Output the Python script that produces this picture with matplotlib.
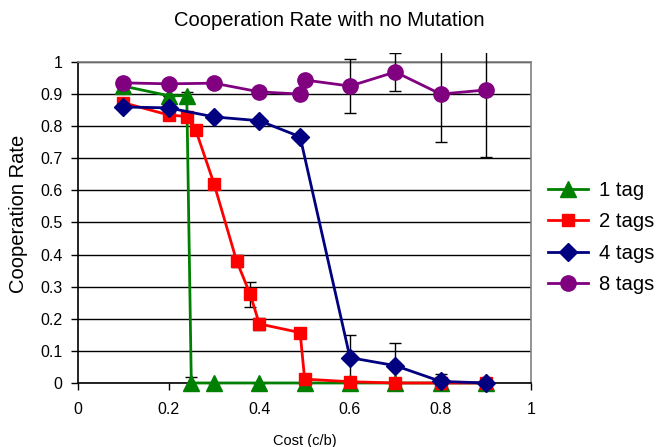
import numpy as np
import matplotlib.pyplot as plt
from matplotlib.transforms import Bbox, TransformedBbox

plt.rcParams['font.family'] = ['Liberation Sans', 'DejaVu Sans']

# 1 tag
x1 = [0.1, 0.2, 0.24, 0.25, 0.3, 0.4, 0.5, 0.6, 0.7, 0.8, 0.9]
y1 = [0.925, 0.895, 0.895, 0.0, 0.0, 0.0, 0.0, 0.0, 0.0, 0.0, 0.0]
e1 = [0.0, 0.0, 0.01, 0.02, 0.0, 0.0, 0.0, 0.0, 0.0, 0.0, 0.0]

# 2 tags
x2 = [0.1, 0.2, 0.24, 0.26, 0.3, 0.35, 0.38, 0.4, 0.49, 0.5, 0.6, 0.7, 0.8, 0.9]
y2 = [0.873, 0.835, 0.83, 0.787, 0.621, 0.38, 0.276, 0.184, 0.157, 0.012, 0.004, 0.0, 0.0, 0.0]
e2 = [0.0, 0.0, 0.0, 0.01, 0.0, 0.02, 0.04, 0.02, 0.01, 0.0, 0.0, 0.0, 0.0, 0.0]

# 4 tags
x4 = [0.1, 0.2, 0.3, 0.4, 0.49, 0.6, 0.7, 0.8, 0.9]
y4 = [0.86, 0.857, 0.829, 0.817, 0.767, 0.079, 0.054, 0.005, 0.0]
e4 = [0.0, 0.0, 0.0, 0.0, 0.01, 0.07, 0.07, 0.023, 0.0]

# 8 tags
x8 = [0.1, 0.2, 0.3, 0.4, 0.49, 0.5, 0.6, 0.7, 0.8, 0.9]
y8 = [0.935, 0.932, 0.934, 0.907, 0.9, 0.944, 0.925, 0.969, 0.9, 0.913]
e8 = [0.0, 0.0, 0.0, 0.0, 0.0, 0.0, 0.085, 0.06, 0.148, 0.208]

series = [
    (x1, y1, e1, '1 tag', '#008000', '^', 12),
    (x2, y2, e2, '2 tags', '#FF0000', 's', 9),
    (x4, y4, e4, '4 tags', '#000080', 'D', 9),
    (x8, y8, e8, '8 tags', '#800080', 'o', 11),
]

fig = plt.figure(figsize=(6.58, 4.47), dpi=100)
ax = fig.add_axes([0.1185, 0.1432, 0.689, 0.7181])

# error bars may poke a little above the plot area, as in the original
clip = TransformedBbox(Bbox([[0, -0.05], [1, 1.028]]), ax.transAxes)

for x, y, e, lab, col, mk, ms in series:
    eb = ax.errorbar(x, y, yerr=e, fmt='none', ecolor='black', elinewidth=1.0,
                     capsize=4, capthick=1.0, zorder=3)
    for art in list(eb.lines[1]) + list(eb.lines[2]):
        art.set_clip_box(clip)
    ax.plot(x, y, color=col, marker=mk, markersize=ms, linewidth=2,
            label=lab, zorder=4, clip_on=False)

ax.set_xlim(0, 1)
ax.set_ylim(0, 1)
ax.set_xticks(np.arange(0, 1.01, 0.2))
ax.set_xticklabels(['0', '0.2', '0.4', '0.6', '0.8', '1'])
ax.set_yticks(np.arange(0, 1.01, 0.1))
ax.set_yticklabels(['0', '0.1', '0.2', '0.3', '0.4', '0.5', '0.6', '0.7', '0.8', '0.9', '1'])
ax.tick_params(labelsize=11.5, direction='out', length=5, width=1)
ax.tick_params(axis='x', pad=9)
ax.tick_params(axis='y', pad=6)
ax.yaxis.grid(True, color='black', linewidth=1)
ax.set_axisbelow(True)

ax.spines['left'].set_color('black')
ax.spines['bottom'].set_color('black')
ax.spines['top'].set_color('#808080')
ax.spines['right'].set_color('#808080')
for s in ax.spines.values():
    s.set_linewidth(1.2)

fig.text(0.5, 0.955, 'Cooperation Rate with no Mutation', ha='center', va='center', fontsize=14.5)
ax.set_ylabel('Cooperation Rate', fontsize=14.5, labelpad=9)
ax.yaxis.label.set_y(0.528)
ax.set_xlabel('Cost (c/b)', fontsize=10.5, labelpad=12)

ax.legend(loc='center left', bbox_to_anchor=(1.0, 0.453), frameon=False, fontsize=14.6,
          handlelength=2.0, labelspacing=0.6, handletextpad=0.55, borderaxespad=0.4)

fig.savefig('out.png', dpi=100)
